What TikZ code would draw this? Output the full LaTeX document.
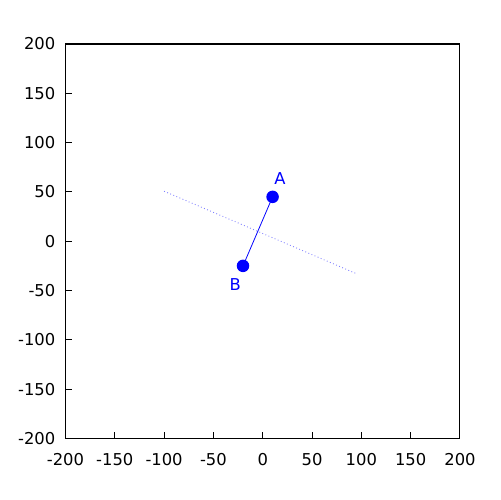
\documentclass[tikz,border=0pt]{standalone}
\usepackage{fontspec}
\setmainfont{DejaVu Sans}
\usetikzlibrary{positioning}
\definecolor{plotBlue}{rgb}{0,0,1}
\definecolor{plotLavender}{rgb}{0.5,0.5,1}

\begin{document}
\begin{tikzpicture}[
    x=0.01972cm, y=0.01972cm,
    axis/.style={draw=black, line width=0.6pt},
    tick/.style={draw=black, line width=0.6pt},
    ticklbl/.style={font=\fontsize{9.3}{11}\selectfont, inner sep=0pt},
    pt/.style={circle, fill=plotBlue, draw=none, minimum size=0.25cm, inner sep=0pt},
    lbl/.style={font=\fontsize{9.3}{11}\selectfont, text=plotBlue, inner sep=0pt},
    seg/.style={draw=plotBlue, line width=0.45pt},
    bisect/.style={draw=plotLavender, line width=0.5pt, dash pattern=on 0.5pt off 1.4pt},
]
% page, 500 x 500 px
\useasboundingbox (-266.4,-262.4) rectangle (240.6,244.6);

% frame
\draw[axis] (-200,-200) rectangle (200,200);

% ticks and labels
\foreach \v in {-200,-150,...,200} {
    \draw[tick] (\v,-200) -- ++(0,7);
    \draw[tick] (-200,\v) -- ++(7,0);
    \node[ticklbl, anchor=east] (ylbl\v) at (-210,\v) {\v};
    \node[ticklbl, anchor=north] (xlbl\v) at (\v,-215) {\v};
}

% bisector of AB
\coordinate (bisL) at (-100,50.7);
\coordinate (bisR) at (95,-32.9);
\draw[bisect] (bisL) -- (bisR);

% the two points
\node[pt] (A) at (10,45) {};
\node[pt] (B) at (-20,-25) {};
\draw[seg] (A.center) -- (B.center);
\node[lbl] (lblA) at (17.5,64) {A};
\node[lbl] (lblB) at (-28,-44) {B};
\end{tikzpicture}
\end{document}
